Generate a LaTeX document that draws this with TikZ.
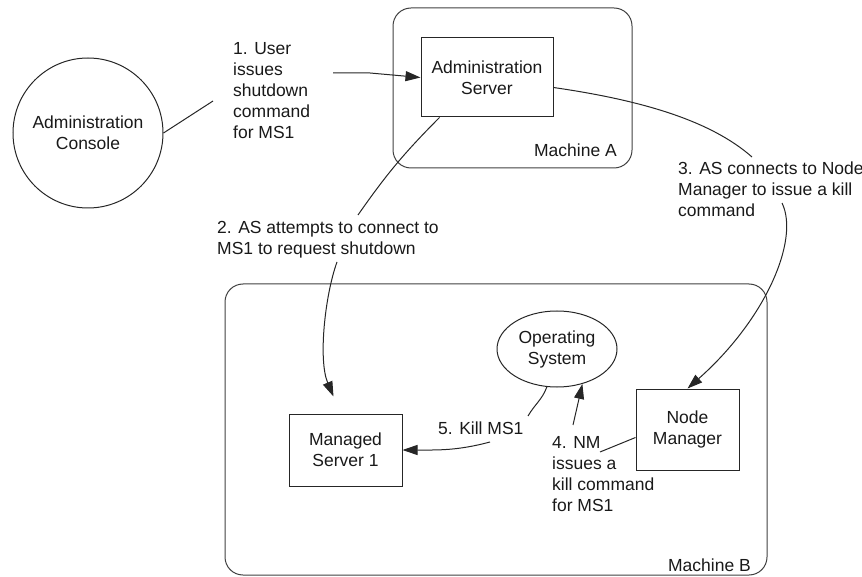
\documentclass[tikz,border=0pt]{standalone}
\usepackage{fontspec}
\setmainfont{Liberation Sans}
\usetikzlibrary{arrows.meta,shapes.geometric}
\begin{document}
\begin{tikzpicture}[x=1pt,y=-1pt,
  every node/.style={font=\fontsize{17.5pt}{21pt}\selectfont, text=black!90},
  box/.style={draw=black!85, line width=1pt, inner sep=0pt, align=center},
  machine/.style={draw=black!75, line width=1pt, rounded corners=18pt, inner sep=0pt},
  lbl/.style={align=left, anchor=base west, inner sep=0pt},
  mlbl/.style={anchor=base east, inner sep=0pt},
  conn/.style={draw=black!85, line width=1pt},
  arr/.style={conn, -{Triangle[length=15pt,width=10pt]}}]
\useasboundingbox (0,0) rectangle (862,577);

% machines
\node[machine, minimum width=239pt, minimum height=160pt] (ma) at (512.5,88) {};
\node[machine, minimum width=542pt, minimum height=291pt] (mb) at (496,429.5) {};
\node[mlbl] (mal) at (617,157) {Machine A};
\node[mlbl] (mbl) at (751,571) {Machine B};

% components
\node[box, circle, minimum size=150pt] (console) at (88,133) {Administration\\Console};
\node[box, minimum width=132pt, minimum height=79pt] (server) at (487,77.5) {Administration\\Server};
\node[box, minimum width=113pt, minimum height=72pt] (ms) at (345.5,450) {Managed\\Server 1};
\node[box, minimum width=103pt, minimum height=81pt] (nm) at (687.5,429.5) {Node\\Manager};
\node[box, ellipse, minimum width=120pt, minimum height=76pt] (os) at (557,349) {Operating\\System};

% labels (base = baseline of the last line)
\node[lbl] (l1) at (233,139) {1. User\\issues\\shutdown\\command\\for MS1};
\node[lbl] (l2) at (217,255) {2. AS attempts to connect to\\MS1 to request shutdown};
\node[lbl] (l3) at (678,217) {3. AS connects to Node\\Manager to issue a kill\\command};
\node[lbl] (l4) at (552,511) {4. NM\\issues a\\kill command\\for MS1};
\node[lbl] (l5) at (438,434) {5. Kill MS1};

% connector attachment points
\coordinate (c1a) at (213,101);
\coordinate (c1b) at (333,73);
\coordinate (c1k) at (370,73);
\coordinate (c2a) at (358,215);
\coordinate (c2b) at (337,262);
\coordinate (c3a) at (752,157);
\coordinate (c3b) at (782,203);
\coordinate (c4a) at (600,452);
\coordinate (c4b) at (573,425);
\coordinate (c5a) at (528,416);
\coordinate (c5b) at (490,442);

% connectors
\draw[conn] (console.east) -- (c1a);
\draw[arr] (c1b) -- (c1k) -- (server.west);

\draw[conn] ([xshift=19pt]server.south west) to[bend right=5] (c2a);
\draw[arr] (c2b) .. controls (325,295) and (318,360) .. ([xshift=-12pt,yshift=17pt]ms.north);

\draw[conn] ([yshift=-10pt]server.east) .. controls (640,100) and (710,120) .. (c3a);
\draw[arr] (c3b) .. controls (800,240) and (765,320) .. (nm.north);

\draw[conn] ([yshift=-8pt]nm.west) -- (c4a);
\draw[arr] (c4b) -- (os.-54);

\draw[conn] (os.-105) to[out=-110,in=60] (c5a);
\draw[arr] (c5b) to[out=195,in=0] (ms.east);
\end{tikzpicture}
\end{document}
